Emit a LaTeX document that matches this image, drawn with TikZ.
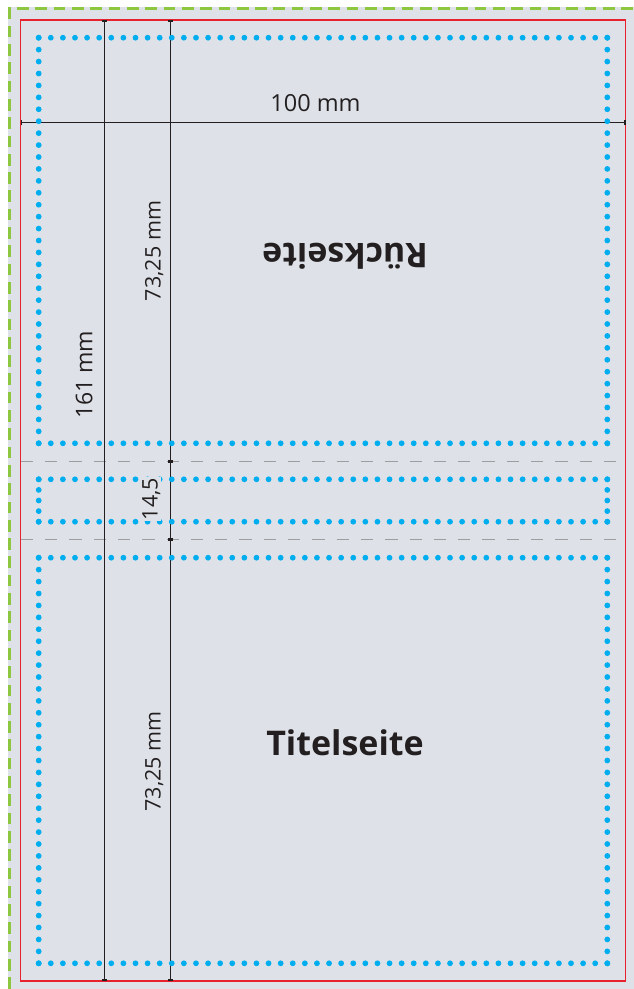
\documentclass[tikz,border=0pt]{standalone}
\usepackage{fontspec}
\setmainfont{Open Sans}
\usetikzlibrary{arrows.meta}
\definecolor{bgc}{RGB}{222,226,232}
\definecolor{dotc}{RGB}{0,174,239}
\definecolor{redc}{RGB}{229,34,45}
\definecolor{greenc}{RGB}{141,198,63}
\definecolor{inkc}{RGB}{35,31,32}
\definecolor{grayc}{RGB}{158,158,160}
\newcommand\mydotrow[4]{%
  \pgfmathsetmacro\dlen{veclen(#3-#1,#4-#2)}%
  \pgfmathtruncatemacro\dn{ceil(\dlen/12.2)}%
  \pgfmathsetmacro\ddx{(#3-#1)/\dn}%
  \pgfmathsetmacro\ddy{(#4-#2)/\dn}%
  \foreach \k in {0,...,\dn}{%
    \fill[dotc] ({#1+\ddx*\k},{#2+\ddy*\k}) circle[radius=2.9pt];}%
}
\newcommand\mydotrect[4]{%
  \mydotrow{#1}{#2}{#3}{#2}\mydotrow{#3}{#2}{#3}{#4}%
  \mydotrow{#3}{#4}{#1}{#4}\mydotrow{#1}{#4}{#1}{#2}%
}
\tikzset{
  dimline/.style={draw=inkc, line width=1.45pt, {Bar[width=5.5pt,line width=1.6pt]}-{Bar[width=5.5pt,line width=1.6pt]}},
  foldline/.style={draw=grayc, line width=1.3pt, dash pattern=on 12.3pt off 12pt},
  trimline/.style={draw=redc, line width=1.3pt},
  bleedline/.style={draw=greenc, line width=2.6pt, dash pattern=on 11.7pt off 6.6pt},
  dimlabel/.style={font=\fontsize{21.5}{24}\selectfont, text=inkc, inner sep=1pt, fill=bgc},
  pagelabel/.style={font=\fontsize{34}{38}\selectfont\bfseries, text=inkc, inner sep=0pt},
}
\begin{document}
\begin{tikzpicture}[x=1pt,y=-1pt]
\useasboundingbox (0,0) rectangle (634,989);
\fill[white] (0,0) rectangle (634,989);
\fill[bgc] (8,6.7) rectangle (634,989);
% bleed line
\coordinate (gb) at (9.3,989);
\coordinate (gc) at (9.3,8.7);
\coordinate (gr) at (634,8.7);
\draw[bleedline] (gb) -- (gc) -- (gr);
% fold lines
\coordinate (f1l) at (20.7,461.3);
\coordinate (f1r) at (625.7,461.3);
\coordinate (f2l) at (20.7,539.3);
\coordinate (f2r) at (625.7,539.3);
\draw[foldline] (f1l) -- (f1r);
\draw[foldline] (f2l) -- (f2r);
% trim
\coordinate (tl) at (20.7,20);
\coordinate (br) at (625.7,981);
\draw[trimline] (tl) rectangle (br);
% dimension lines
\coordinate (hl) at (20.7,122.7);
\coordinate (hr) at (625.7,122.7);
\coordinate (v1t) at (104.4,20);
\coordinate (v1b) at (104.4,981);
\coordinate (v2t) at (170.7,20);
\coordinate (v2a) at (170.7,461.3);
\coordinate (v2b) at (170.7,539.3);
\coordinate (v2c) at (170.7,981);
\draw[dimline] (hl) -- (hr);
\draw[dimline] (v1t) -- (v1b);
\draw[dimline] (v2t) -- (v2a);
\draw[dimline] (v2a) -- (v2b);
\draw[dimline] (v2b) -- (v2c);
% safe-area dots
\mydotrect{38.7}{37.7}{607.3}{443.3}
\mydotrect{38.7}{479.3}{607.3}{521.7}
\mydotrect{38.7}{557.7}{607.3}{963.3}
% labels
\node[dimlabel, font=\fontsize{23.5}{26}\selectfont, anchor=base] (l100) at (315.5,111.7) {100 mm};
\node[dimlabel, font=\fontsize{23}{26}\selectfont, rotate=90, anchor=base] (l161) at (92.3,374.7) {161 mm};
\node[dimlabel, rotate=90, anchor=base] (l73a) at (160.5,251) {73,25 mm};
\node[dimlabel, rotate=90, anchor=base] (l145) at (157.7,499.2) {14,5};
\node[dimlabel, rotate=90, anchor=base] (l73b) at (160.5,761.3) {73,25 mm};
\node[pagelabel, rotate=180, anchor=base] (back) at (345,243.5) {Rückseite};
\node[pagelabel, anchor=base] (front) at (345,755) {Titelseite};
\end{tikzpicture}
\end{document}
